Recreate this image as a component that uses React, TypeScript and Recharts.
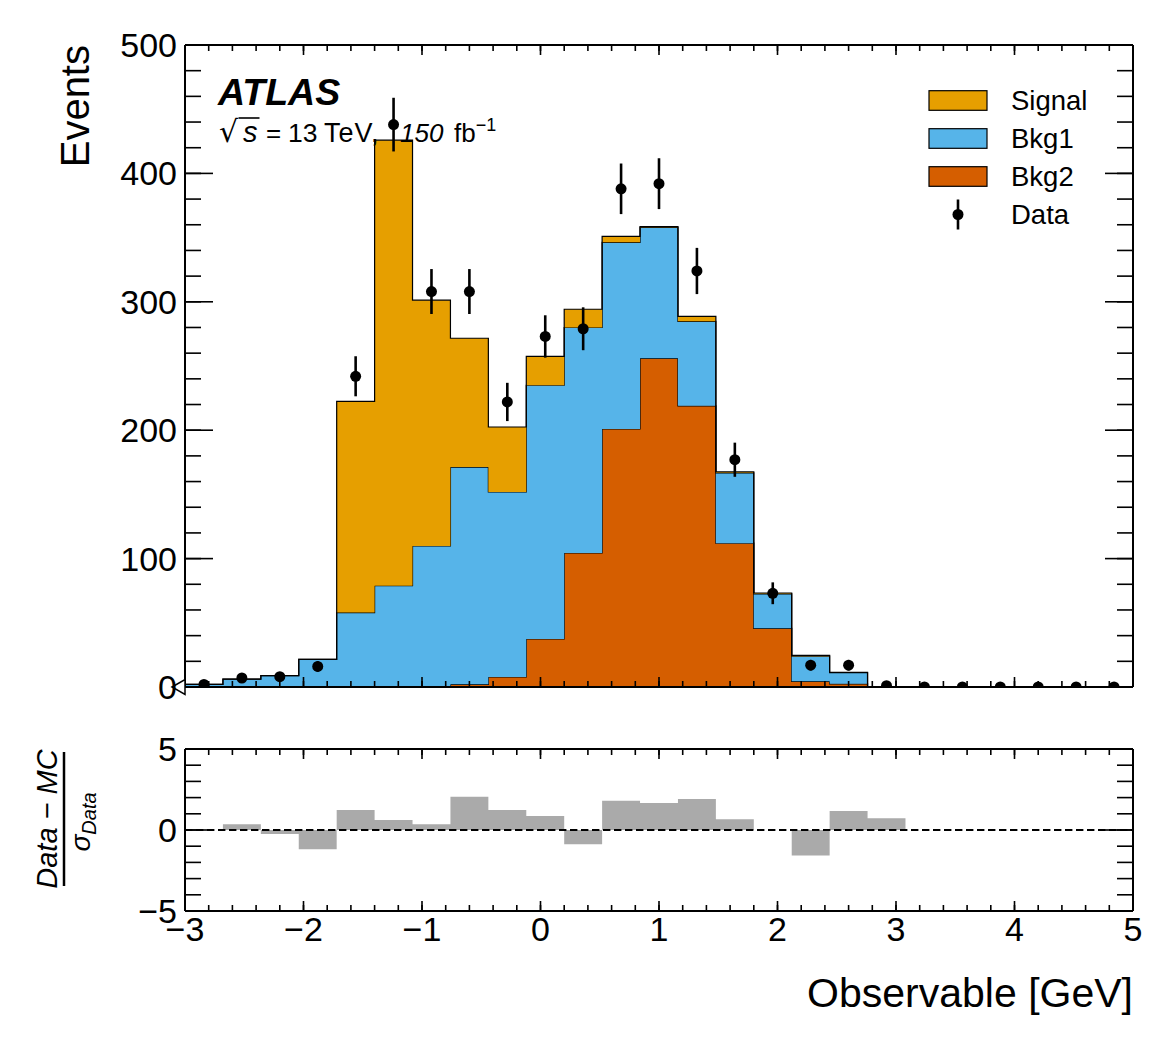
import React from 'react';
import {
  ComposedChart,
  Area,
  Scatter,
  ErrorBar,
  XAxis,
  YAxis,
  ReferenceLine,
  ReferenceDot,
  Legend,
  Label,
} from 'recharts';

const FONT = '"Liberation Sans", Arial, Helvetica, sans-serif';

// ---------- data ----------
const binEdges = [-3, -2.68, -2.36, -2.04, -1.72, -1.4, -1.08, -0.76, -0.44, -0.12, 0.2, 0.52, 0.84, 1.16, 1.48, 1.8, 2.12, 2.44, 2.76, 3.08, 3.4, 3.72, 4.04, 4.36, 4.68, 5];
const binCenters = [-2.84, -2.52, -2.2, -1.88, -1.56, -1.24, -0.92, -0.6, -0.28, 0.04, 0.36, 0.68, 1, 1.32, 1.64, 1.96, 2.28, 2.6, 2.92, 3.24, 3.56, 3.88, 4.2, 4.52, 4.84];
const bkg2Counts = [0, 0, 0, 0, 0, 0, 0, 2.1, 7.8, 37.4, 104.4, 201, 256, 219, 112, 45.7, 4.4, 2.5, 0, 0, 0, 0, 0, 0, 0];
const bkg1Counts = [2.1, 6.2, 8.8, 21.5, 58, 78.9, 109.8, 169.2, 144.1, 197.6, 175.6, 145.3, 102, 65.8, 54.7, 26.9, 19.6, 8.6, 0.3, 0, 0, 0, 0, 0, 0];
const signalCounts = [0, 0, 0, 0, 164.5, 347, 191.5, 100.3, 50.6, 22.5, 14.2, 4.7, 0.5, 3.9, 0.8, 0.6, 0.6, 0.3, 0, 0, 0, 0, 0, 0, 0];
const dataCounts = [2, 7, 8, 16, 242, 438, 308, 308, 222, 273, 279, 388, 392, 324, 177, 73, 17, 17, 1, 0, 0, 0, 0, 0, 0];
const dataErrors = [1.4, 2.6, 2.8, 4, 15.6, 20.9, 17.5, 17.5, 14.9, 16.5, 16.7, 19.7, 19.8, 18, 13.3, 8.5, 4.1, 4.1, 1, 0, 0, 0, 0, 0, 0];
const pullValues = [0, 0.35, -0.25, -1.19, 1.23, 0.61, 0.36, 2.05, 1.23, 0.86, -0.88, 1.8, 1.67, 1.92, 0.67, 0, -1.57, 1.17, 0.73, 0, 0, 0, 0, 0, 0];

const xMajorTicks = [-3, -2, -1, 0, 1, 2, 3, 4, 5];
const xMinorTicks = [-3, -2.8, -2.6, -2.4, -2.2, -2, -1.8, -1.6, -1.4, -1.2, -1, -0.8, -0.6, -0.4, -0.2, 0, 0.2, 0.4, 0.6, 0.8, 1, 1.2, 1.4, 1.6, 1.8, 2, 2.2, 2.4, 2.6, 2.8, 3, 3.2, 3.4, 3.6, 3.8, 4, 4.2, 4.4, 4.6, 4.8, 5];
const yMajorTicks = [0, 100, 200, 300, 400, 500];
const yMinorTicks = [0, 20, 40, 60, 80, 100, 120, 140, 160, 180, 200, 220, 240, 260, 280, 300, 320, 340, 360, 380, 400, 420, 440, 460, 480, 500];
const pullMajorTicks = [-5, 0, 5];
const pullMinorTicks = [-5, -4, -3, -2, -1, 0, 1, 2, 3, 4, 5];

const seriesNames = ['Signal', 'Bkg1', 'Bkg2'];
const seriesColors = ['#E69F00', '#56B4E9', '#D55E00'];
const dataName = 'Data';

// ---------- derived tables ----------
const lastBin = bkg2Counts.length - 1;
const histRows = binEdges.map((x, i) => {
  const j = Math.min(i, lastBin);
  return { x, bkg2: bkg2Counts[j], bkg1: bkg1Counts[j], signal: signalCounts[j] };
});
const dataRows = binCenters.map((x, i) => ({ x, y: dataCounts[i], err: dataErrors[i] }));
const pullRows = binEdges.map((x, i) => ({ x, pull: pullValues[Math.min(i, lastBin)] }));

const fmt = (v: number) => (v < 0 ? `\u2212${Math.abs(v)}` : `${v}`);

const axisLineStyle = { stroke: '#000', strokeWidth: 2 };
const tickLineStyle = { stroke: '#000', strokeWidth: 1.6 };
const tickFont = { fontSize: 34, fill: '#000', fontFamily: FONT };

// ---------- decorations ----------
const NoLabel = () => <g />;

const DataDot = (p: any) => <circle cx={p.cx} cy={p.cy} r={5.5} fill="#000" />;

const TriangleMarker = (p: any) => (
  <polygon
    points={`${p.cx - 13},${p.cy} ${p.cx},${p.cy - 7.5} ${p.cx},${p.cy + 7.5}`}
    fill="#fff"
    stroke="#000"
    strokeWidth={1.5}
  />
);

const EventsTitle = () => (
  <text transform="rotate(-90)" x={-45} y={89} textAnchor="end" fontSize={40} fontFamily={FONT} fill="#000">
    Events
  </text>
);

const PullTitle = () => (
  <g transform="rotate(-90)" fontFamily={FONT} fill="#000">
    <text x={-119} y={57} textAnchor="middle" fontSize={29} fontStyle="italic">
      Data − MC
    </text>
    <line x1={-186} x2={-52} y1={64} y2={64} stroke="#000" strokeWidth={2.5} />
    <text x={-122} y={90} textAnchor="middle" fontSize={28} fontStyle="italic">
      σ<tspan fontSize={20} dy={6}>Data</tspan>
    </text>
  </g>
);

const XTitle = () => (
  <text x={1133} y={307} textAnchor="end" fontSize={41} fontFamily={FONT} fill="#000">
    Observable [GeV]
  </text>
);

const MainOverlay = () => {
  const rowY = [100.5, 138.5, 176.5];
  return (
    <svg width={1173} height={700} style={{ position: 'absolute', left: 0, top: 0, overflow: 'visible' }} fontFamily={FONT}>
      <text x={218} y={105} fontSize={37.5} fontWeight="bold" fontStyle="italic" fill="#000">
        ATLAS
      </text>
      <g fill="#000">
        <text x={219} y={142} fontSize={30} fontFamily='"DejaVu Sans", sans-serif'>√</text>
        <line x1={238.5} x2={259.5} y1={118} y2={118} stroke="#000" strokeWidth={1.6} />
        <text x={243} y={142} fontSize={29} fontStyle="italic">s</text>
        <text x={266} y={142} fontSize={26}>=</text>
        <text x={288} y={142} fontSize={26.5}>13</text>
        <text x={324} y={142} fontSize={27} letterSpacing={1}>TeV,</text>
        <text x={400} y={142} fontSize={26} fontStyle="italic">150</text>
        <text x={454} y={142} fontSize={26}>
          fb<tspan dy={-11} fontSize={18}>−1</tspan>
        </text>
      </g>
      {seriesNames.map((name, i) => (
        <g key={name}>
          <rect x={929} y={rowY[i] - 9.8} width={58} height={19.6} fill={seriesColors[i]} stroke="#000" strokeWidth={1.2} />
          <text x={1011} y={rowY[i] + 9.5} fontSize={27.5} fill="#000">
            {name}
          </text>
        </g>
      ))}
      <g>
        <line x1={958} x2={958} y1={199.5} y2={229.5} stroke="#000" strokeWidth={2.6} />
        <circle cx={958} cy={214.5} r={5.5} fill="#000" />
        <text x={1011} y={224} fontSize={27.5} fill="#000">
          {dataName}
        </text>
      </g>
    </svg>
  );
};

export default function App() {
  return (
    <div style={{ position: 'absolute', left: 0, top: 0, width: 1173, height: 1045, background: '#fff' }}>
      {/* main panel */}
      <div style={{ position: 'absolute', left: 0, top: 0 }}>
        <ComposedChart width={1173} height={700} data={histRows} margin={{ top: 45, right: 40, bottom: 13, left: 85 }}>
          <Area dataKey="bkg2" stackId="mc" type="stepAfter" fill={seriesColors[2]} fillOpacity={1} stroke="#000" strokeWidth={1.2} dot={false} activeDot={false} isAnimationActive={false} />
          <Area dataKey="bkg1" stackId="mc" type="stepAfter" fill={seriesColors[1]} fillOpacity={1} stroke="#000" strokeWidth={1.2} dot={false} activeDot={false} isAnimationActive={false} />
          <Area dataKey="signal" stackId="mc" type="stepAfter" fill={seriesColors[0]} fillOpacity={1} stroke="#000" strokeWidth={1.2} dot={false} activeDot={false} isAnimationActive={false} />
          <Scatter data={dataRows} dataKey="y" shape={DataDot} isAnimationActive={false}>
            <ErrorBar dataKey="err" direction="y" width={0} stroke="#000" strokeWidth={2.6} />
          </Scatter>
          <ReferenceDot x={-3} y={0} r={7} shape={TriangleMarker} />

          <XAxis xAxisId={0} type="number" dataKey="x" domain={[-3, 5]} allowDataOverflow ticks={xMajorTicks} interval={0} orientation="bottom" mirror height={1} tick={NoLabel} tickSize={10} axisLine={axisLineStyle} tickLine={tickLineStyle} />
          <XAxis xAxisId="bmin" type="number" dataKey="x" domain={[-3, 5]} allowDataOverflow ticks={xMinorTicks} interval={0} orientation="bottom" mirror height={1} tick={NoLabel} tickSize={5} axisLine={false} tickLine={tickLineStyle} />
          <XAxis xAxisId="tmaj" type="number" dataKey="x" domain={[-3, 5]} allowDataOverflow ticks={xMajorTicks} interval={0} orientation="top" mirror height={1} tick={NoLabel} tickSize={10} axisLine={axisLineStyle} tickLine={tickLineStyle} />
          <XAxis xAxisId="tmin" type="number" dataKey="x" domain={[-3, 5]} allowDataOverflow ticks={xMinorTicks} interval={0} orientation="top" mirror height={1} tick={NoLabel} tickSize={5} axisLine={false} tickLine={tickLineStyle} />

          <YAxis yAxisId={0} type="number" domain={[0, 500]} allowDataOverflow ticks={yMajorTicks} interval={0} orientation="left" mirror width={1} tick={NoLabel} tickSize={28} axisLine={axisLineStyle} tickLine={tickLineStyle} />
          <YAxis yAxisId="lmin" type="number" domain={[0, 500]} allowDataOverflow ticks={yMinorTicks} interval={0} orientation="left" mirror width={1} tick={NoLabel} tickSize={15} axisLine={false} tickLine={tickLineStyle} />
          <YAxis yAxisId="rmaj" type="number" domain={[0, 500]} allowDataOverflow ticks={yMajorTicks} interval={0} orientation="right" mirror width={1} tick={NoLabel} tickSize={28} axisLine={axisLineStyle} tickLine={tickLineStyle} />
          <YAxis yAxisId="rmin" type="number" domain={[0, 500]} allowDataOverflow ticks={yMinorTicks} interval={0} orientation="right" mirror width={1} tick={NoLabel} tickSize={15} axisLine={false} tickLine={tickLineStyle} />
          <YAxis yAxisId="lab" type="number" domain={[0, 500]} allowDataOverflow ticks={yMajorTicks} interval={0} orientation="left" width={100} tickLine={false} axisLine={false} tickSize={0} tickMargin={8} tick={tickFont} tickFormatter={fmt}>
            <Label content={EventsTitle} />
          </YAxis>

          <Legend
            layout="vertical"
            align="center"
            verticalAlign="middle"
            wrapperStyle={{ left: 0, top: 0, width: 1173, height: 700, pointerEvents: 'none' }}
            content={() => <MainOverlay />}
          />
        </ComposedChart>
      </div>

      {/* ratio panel */}
      <div style={{ position: 'absolute', left: 0, top: 700 }}>
        <ComposedChart width={1173} height={345} data={pullRows} margin={{ top: 49, right: 40, bottom: 74, left: 85 }}>
          <Area dataKey="pull" type="stepAfter" baseValue={0} fill="#aaaaaa" fillOpacity={1} stroke="none" dot={false} activeDot={false} isAnimationActive={false} />
          <ReferenceLine y={0} stroke="#000" strokeWidth={2} strokeDasharray="7.4 3.6" />

          <XAxis xAxisId={0} type="number" dataKey="x" domain={[-3, 5]} allowDataOverflow ticks={xMajorTicks} interval={0} orientation="bottom" mirror height={1} tick={NoLabel} tickSize={10} axisLine={axisLineStyle} tickLine={tickLineStyle} />
          <XAxis xAxisId="bmin" type="number" dataKey="x" domain={[-3, 5]} allowDataOverflow ticks={xMinorTicks} interval={0} orientation="bottom" mirror height={1} tick={NoLabel} tickSize={5} axisLine={false} tickLine={tickLineStyle} />
          <XAxis xAxisId="tmaj" type="number" dataKey="x" domain={[-3, 5]} allowDataOverflow ticks={xMajorTicks} interval={0} orientation="top" mirror height={1} tick={NoLabel} tickSize={10} axisLine={axisLineStyle} tickLine={tickLineStyle} />
          <XAxis xAxisId="tmin" type="number" dataKey="x" domain={[-3, 5]} allowDataOverflow ticks={xMinorTicks} interval={0} orientation="top" mirror height={1} tick={NoLabel} tickSize={5} axisLine={false} tickLine={tickLineStyle} />
          <XAxis xAxisId="lab" type="number" dataKey="x" domain={[-3, 5]} allowDataOverflow ticks={xMajorTicks} interval={0} orientation="bottom" height={60} tickLine={false} axisLine={false} tickSize={0} tickMargin={6} tick={tickFont} tickFormatter={fmt}>
            <Label content={XTitle} />
          </XAxis>

          <YAxis yAxisId={0} type="number" domain={[-5, 5]} allowDataOverflow ticks={pullMajorTicks} interval={0} orientation="left" mirror width={1} tick={NoLabel} tickSize={28} axisLine={axisLineStyle} tickLine={tickLineStyle} />
          <YAxis yAxisId="lmin" type="number" domain={[-5, 5]} allowDataOverflow ticks={pullMinorTicks} interval={0} orientation="left" mirror width={1} tick={NoLabel} tickSize={15} axisLine={false} tickLine={tickLineStyle} />
          <YAxis yAxisId="rmaj" type="number" domain={[-5, 5]} allowDataOverflow ticks={pullMajorTicks} interval={0} orientation="right" mirror width={1} tick={NoLabel} tickSize={28} axisLine={axisLineStyle} tickLine={tickLineStyle} />
          <YAxis yAxisId="rmin" type="number" domain={[-5, 5]} allowDataOverflow ticks={pullMinorTicks} interval={0} orientation="right" mirror width={1} tick={NoLabel} tickSize={15} axisLine={false} tickLine={tickLineStyle} />
          <YAxis yAxisId="lab" type="number" domain={[-5, 5]} allowDataOverflow ticks={pullMajorTicks} interval={0} orientation="left" width={100} tickLine={false} axisLine={false} tickSize={0} tickMargin={8} tick={tickFont} tickFormatter={fmt}>
            <Label content={PullTitle} />
          </YAxis>
        </ComposedChart>
      </div>
    </div>
  );
}
